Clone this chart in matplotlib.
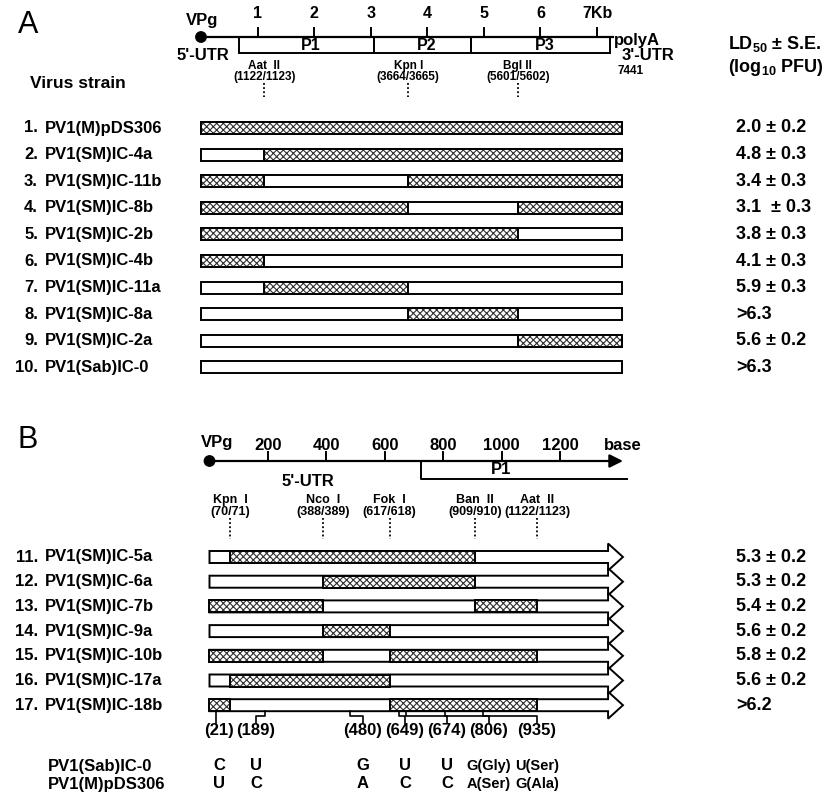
import matplotlib
matplotlib.use('Agg')
import matplotlib.pyplot as plt
from matplotlib.patches import Rectangle, Polygon, Circle

plt.rcParams['font.family'] = ['Liberation Sans', 'DejaVu Sans']
plt.rcParams['font.weight'] = 'bold'
plt.rcParams['mathtext.fontset'] = 'custom'
plt.rcParams['mathtext.rm'] = 'Liberation Sans:bold'
plt.rcParams['mathtext.bf'] = 'Liberation Sans:bold'
plt.rcParams['mathtext.it'] = 'Liberation Sans:bold'
plt.rcParams['hatch.linewidth'] = 0.8

# ---------------- DATA ----------------
# Panel A: full genome (nt)
A_genome_len = 7441
A_map_ticks = [1000, 2000, 3000, 4000, 5000, 6000, 7000]
A_map_tick_labels = ['1', '2', '3', '4', '5', '6', '7Kb']
A_regions = ['P1', 'P2', 'P3']
A_region_bounds = [672, 3058, 4772, 7229]
A_site_names = ['Aat  II', 'Kpn I', 'Bgl II']
A_site_pos = [1122, 3664, 5601]
A_site_labels = ['(1122/1123)', '(3664/3665)', '(5601/5602)']
A_junctions = [0, 1122, 3664, 5601, 7441]
A_names = ['PV1(M)pDS306', 'PV1(SM)IC-4a', 'PV1(SM)IC-11b', 'PV1(SM)IC-8b',
           'PV1(SM)IC-2b', 'PV1(SM)IC-4b', 'PV1(SM)IC-11a', 'PV1(SM)IC-8a',
           'PV1(SM)IC-2a', 'PV1(Sab)IC-0']
# M = Mahoney-derived (stippled), S = Sabin-derived (open)
A_patterns = ['MMMM', 'SMMM', 'MSMM', 'MMSM', 'MMMS',
              'MSSS', 'SMSS', 'SSMS', 'SSSM', 'SSSS']
A_ld50 = ['2.0 ± 0.2', '4.8 ± 0.3', '3.4 ± 0.3', '3.1  ± 0.3', '3.8 ± 0.3',
          '4.1 ± 0.3', '5.9 ± 0.3', '>6.3', '5.6 ± 0.2', '>6.3']

# Panel B: 5' region (bases)
B_map_ticks = [200, 400, 600, 800, 1000, 1200]
B_p1_start = 724
B_site_names = ['Kpn  I', 'Nco  I', 'Fok  I', 'Ban  II', 'Aat  II']
B_site_pos = [70, 388, 617, 909, 1122]
B_site_labels = ['(70/71)', '(388/389)', '(617/618)', '(909/910)', '(1122/1123)']
B_junctions = [0, 70, 388, 617, 909, 1122]
B_names = ['PV1(SM)IC-5a', 'PV1(SM)IC-6a', 'PV1(SM)IC-7b', 'PV1(SM)IC-9a',
           'PV1(SM)IC-10b', 'PV1(SM)IC-17a', 'PV1(SM)IC-18b']
# segments: [0,70],[70,388],[388,617],[617,909],[909,1122]
B_patterns = ['SMMMS', 'SSMMS', 'MMSSM', 'SSMSS', 'MMSMM', 'SMMSS', 'MSSMM']
B_ld50 = ['5.3 ± 0.2', '5.3 ± 0.2', '5.4 ± 0.2', '5.6 ± 0.2',
          '5.8 ± 0.2', '5.6 ± 0.2', '>6.2']
B_mut_pos = [21, 189, 480, 649, 674, 806, 935]
B_sab_nt = ['C', 'U', 'G', 'U', 'U', 'G(Gly)', 'U(Ser)']
B_m_nt = ['U', 'C', 'A', 'C', 'C', 'A(Ser)', 'G(Ala)']

# ---------------- LAYOUT ----------------
W, H = 833, 801
fig = plt.figure(figsize=(W / 100, H / 100), dpi=100)

A_X0, A_SC = 201.0, 421.0 / 7441.0    # px of 0 nt, px per nt
B_X0, B_SC = 209.5, 0.292

def make_ax(x0, sc):
    ax = fig.add_axes([0, 0, 1, 1])
    ax.set_xlim((0 - x0) / sc, (W - x0) / sc)
    ax.set_ylim(H, 0)
    ax.axis('off')
    return ax

ov = make_ax(0, 1.0)
axA = make_ax(A_X0, A_SC)
axB = make_ax(B_X0, B_SC)

STIP_COLOR = '#303030'
BAR_LW = 1.4

def runs(pattern, junctions):
    out, k = [], 0
    while k < len(pattern):
        if pattern[k] == 'M':
            j = k
            while j + 1 < len(pattern) and pattern[j + 1] == 'M':
                j += 1
            out.append((junctions[k], junctions[j + 1]))
            k = j + 1
        else:
            k += 1
    return out

def stipple(ax, x0, x1, yc, hh):
    ax.add_patch(Rectangle((x0, yc - hh), x1 - x0, 2 * hh, facecolor='white',
                           edgecolor=STIP_COLOR, hatch='xxxxx', linewidth=0, zorder=3))
    ax.add_patch(Rectangle((x0, yc - hh), x1 - x0, 2 * hh, fill=False,
                           edgecolor='black', linewidth=BAR_LW, zorder=4))

# ---------- Panel A header ----------
ov.text(18, 25, 'A', fontsize=22, fontweight='normal', ha='left', va='center')
yl = 37
axA.plot([0, 7290], [yl, yl], color='black', lw=1.6, zorder=2)
ov.add_patch(Circle((A_X0, yl), 5.2, color='black', zorder=5))
ov.text(A_X0 + 1, 21, 'VPg', fontsize=12, ha='center', va='center')
for t, lab in zip(A_map_ticks, A_map_tick_labels):
    axA.plot([t, t], [28, yl], color='black', lw=1.4)
    axA.text(t, 14, lab, fontsize=11.5, ha='center', va='center')
by0, by1 = yl, 53
for i, name in enumerate(A_regions):
    a, b = A_region_bounds[i], A_region_bounds[i + 1]
    axA.add_patch(Rectangle((a, by0), b - a, by1 - by0, fill=False,
                            edgecolor='black', lw=1.4))
    axA.text((a + b) / 2 + 80, 45.5, name, fontsize=11.5, ha='center', va='center')
ov.text(A_X0 + 2, 55, "5'-UTR", fontsize=12, ha='center', va='center')
ov.text(614, 40, 'polyA', fontsize=12, ha='left', va='center')
ov.text(622, 56, "3'-UTR", fontsize=12, ha='left', va='center')
axA.text(A_genome_len - 80, 71, '7441', fontsize=8.5, ha='left', va='center')
ov.text(728, 44, r'LD$_{\mathbf{50}}$ ± S.E.', fontsize=13, ha='left', va='center')
ov.text(728, 67, r'(log$_{\mathbf{10}}$ PFU)', fontsize=13, ha='left', va='center')
ov.text(30, 84, 'Virus strain', fontsize=12.5, ha='left', va='center')

for p, nm, lb in zip(A_site_pos, A_site_names, A_site_labels):
    axA.text(p, 66, nm, fontsize=8.5, ha='center', va='center')
    axA.text(p, 77, lb, fontsize=8.5, ha='center', va='center')
    axA.plot([p, p], [83, 97], color='black', lw=1.3, ls=(0, (1, 1.3)))

# ---------- Panel A rows ----------
A_hh = 6
for i, (nm, pat, ld) in enumerate(zip(A_names, A_patterns, A_ld50)):
    yc = 128 + 26.6 * i
    ov.text(38, yc, f'{i + 1}.', fontsize=12, ha='right', va='center')
    ov.text(45, yc, nm, fontsize=12, ha='left', va='center')
    axA.add_patch(Rectangle((0, yc - A_hh), A_genome_len, 2 * A_hh, facecolor='white',
                            edgecolor='black', lw=BAR_LW, zorder=2))
    for a, b in runs(pat, A_junctions):
        stipple(axA, a, b, yc, A_hh)
    ov.text(736, yc, ld, fontsize=13, ha='left', va='center')

# ---------- Panel B header ----------
ov.text(18, 440, 'B', fontsize=22, fontweight='normal', ha='left', va='center')
yb = 461
B_tip = 1416
axB.annotate('', xy=(B_tip, yb), xytext=(0, yb),
             arrowprops=dict(arrowstyle='-|>', lw=1.6, color='black',
                             mutation_scale=20, shrinkA=0, shrinkB=0))
ov.add_patch(Circle((B_X0, yb), 5.2, color='black', zorder=5))
ov.text(B_X0 + 8, 442, 'VPg', fontsize=12, ha='center', va='center')
for t in B_map_ticks:
    axB.plot([t, t], [452, yb], color='black', lw=1.4)
    axB.text(t, 445, str(t), fontsize=12, ha='center', va='center')
ov.text(604, 445, 'base', fontsize=12, ha='left', va='center')
axB.plot([B_p1_start, B_p1_start, 1430], [yb, 479, 479], color='black', lw=1.4)
axB.text(1000, 470, 'P1', fontsize=12, ha='center', va='center')
ov.text(308, 481, "5'-UTR", fontsize=12, ha='center', va='center')

for p, nm, lb in zip(B_site_pos, B_site_names, B_site_labels):
    axB.text(p, 500, nm, fontsize=9, ha='center', va='center')
    axB.text(p, 512, lb, fontsize=9, ha='center', va='center')
    axB.plot([p, p], [518, 539], color='black', lw=1.3, ls=(0, (1, 1.3)))

# ---------- Panel B rows ----------
B_hh, B_head = 6, 13.5
B_rect_end = 1365
for i, (nm, pat, ld) in enumerate(zip(B_names, B_patterns, B_ld50)):
    yc = 557 + 24.7 * i
    ov.text(38, yc, f'{i + 11}.', fontsize=12, ha='right', va='center')
    ov.text(45, yc, nm, fontsize=12, ha='left', va='center')
    poly = [(0, yc - B_hh), (B_rect_end, yc - B_hh), (B_rect_end, yc - B_head),
            (B_tip, yc), (B_rect_end, yc + B_head), (B_rect_end, yc + B_hh),
            (0, yc + B_hh)]
    axB.add_patch(Polygon(poly, closed=True, facecolor='white', edgecolor='black',
                          lw=BAR_LW, joinstyle='miter', zorder=2))
    for a, b in runs(pat, B_junctions):
        stipple(axB, a, b, yc, B_hh)
    ov.text(736, yc, ld, fontsize=13, ha='left', va='center')

# ---------- mutation positions ----------
ybot = 557 + 24.7 * 6 + B_hh
label_px = [219, 256, 363, 405, 447, 489, 537]
for p, lpx, s_nt, m_nt in zip(B_mut_pos, label_px, B_sab_nt, B_m_nt):
    lx = (lpx - B_X0) / B_SC
    if abs(lx - p) * B_SC < 4:
        axB.plot([p, p], [ybot, 723], color='black', lw=1.2)
    else:
        axB.plot([p, p, lx, lx], [ybot, 716, 716, 723], color='black', lw=1.2)
    axB.text(lx, 731, f'({p})', fontsize=12, ha='center', va='center')
    fs = 12 if len(s_nt) == 1 else 10.5
    axB.text(lx, 766, s_nt, fontsize=fs, ha='center', va='center')
    axB.text(lx, 784, m_nt, fontsize=fs, ha='center', va='center')
ov.text(48, 766, 'PV1(Sab)IC-0', fontsize=12, ha='left', va='center')
ov.text(48, 784, 'PV1(M)pDS306', fontsize=12, ha='left', va='center')

fig.savefig('out.png', dpi=100)
